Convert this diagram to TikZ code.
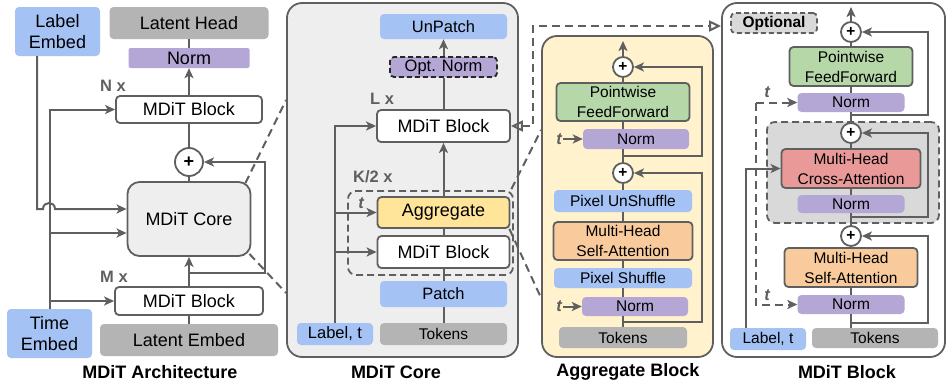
\documentclass[tikz,border=0pt]{standalone}
\usepackage{fontspec}
\setmainfont{Liberation Sans}
\usetikzlibrary{arrows.meta}

\definecolor{lc}{HTML}{5F5F5F}
\definecolor{cblue}{HTML}{A4C2F4}
\definecolor{cgray}{HTML}{B4B4B4}
\definecolor{cpurp}{HTML}{B4A7D6}
\definecolor{cgreen}{HTML}{B6D7A8}
\definecolor{corange}{HTML}{F9CB9C}
\definecolor{cred}{HTML}{EA9999}
\definecolor{cyel}{HTML}{FFE599}
\definecolor{clyel}{HTML}{FFF2CC}
\definecolor{ccore}{HTML}{EEEEEE}
\definecolor{cdg}{HTML}{D9D9D9}

\newcommand{\fbig}{\fontsize{18}{21}\selectfont}
\newcommand{\fmid}{\fontsize{16.5}{20}\selectfont}
\newcommand{\fsml}{\fontsize{15.5}{20}\selectfont}

\tikzset{
	wh/.style 2 args={minimum width=#1pt, minimum height=#2pt},
	bx/.style={rounded corners=4pt, inner sep=0pt, align=center, font=\fsml},
	bord/.style={bx, draw=lc, line width=1.8pt},
	grp/.style={draw=lc, line width=1.8pt, dash pattern=on 7pt off 4pt, rounded corners=8pt, inner sep=0pt},
	plus/.style={circle, draw=lc, fill=white, line width=1.8pt, inner sep=0pt, font=\bfseries\fsml},
	ln/.style={draw=lc, line width=2pt},
	dl/.style={draw=lc, line width=2pt, dash pattern=on 8pt off 5pt},
	rep/.style={anchor=west, inner sep=0pt, text=lc, font=\bfseries\fmid},
	tl/.style={inner sep=1.5pt, text=lc, font=\bfseries\itshape\fmid},
	captxt/.style={inner sep=0pt, font=\bfseries\fbig},
}

\begin{document}
\begin{tikzpicture}[x=1pt, y=-1pt, >={Stealth[length=10pt, width=9pt, inset=2.5pt]}]
	\useasboundingbox (0,0) rectangle (948,383);

	% MDiT Architecture
	\node[bx, fill=cblue, wh={85}{49}, font=\fbig] (lemb) at (57.5,31.5) {Label\\Embed};
	\node[bx, fill=cgray, wh={159}{32}, font=\fbig] (lhead) at (189,23) {Latent Head};
	\node[bx, fill=cpurp, wh={121}{20}, font=\fbig, rounded corners=2pt] (norm1) at (189,58) {Norm};
	\node[bord, fill=white, wh={146}{27}, font=\fbig] (blkN) at (189,109.5) {MDiT Block};
	\node[plus, minimum size=28pt, font=\bfseries\fbig] (plus1) at (189,162) {+};
	\node[bord, fill=ccore, wh={123}{74}, rounded corners=12pt, font=\fbig] (core) at (189,219) {MDiT Core};
	\node[bord, fill=white, wh={148}{28}, font=\fbig] (blkM) at (189,301) {MDiT Block};
	\node[bx, fill=cgray, wh={178}{32}, font=\fbig] (lemb2) at (189,340) {Latent Embed};
	\node[bx, fill=cblue, wh={85}{49}, font=\fbig] (temb) at (49.5,333.5) {Time\\Embed};
	\node[rep] (repN) at (100,86) {N x};
	\node[rep] (repM) at (100,277) {M x};

	\draw[ln] (lhead) -- (norm1);
	\draw[ln,->] (blkN) -- (norm1);
	\draw[ln] (plus1) -- (blkN);
	\draw[ln] (core) -- (plus1);
	\draw[ln,->] (blkM) -- (core);
	\draw[ln] (lemb2) -- (blkM);
	\coordinate (s1) at (189,273);
	\draw[ln,->] (s1) -- (265,273) |- (plus1.east);
	\draw[ln,->] (temb.north) |- (blkN.west);
	\draw[ln,->] (temb.north |- 0,233) -- (core.west |- 0,233);
	\draw[ln,->] (temb.north |- blkM.west) -- (blkM.west);
	\draw[ln,->] (lemb.south -| 37,0) -- (37,209) -- (43,209) .. controls (43,201) and (55,201) .. (55,209) -- (core.west |- 0,209);

	% MDiT Core
	\node[bord, fill=ccore, wh={231}{354}, rounded corners=15pt] (p2) at (402.5,180) {};
	\node[grp, wh={165}{84}] (g2) at (430.5,233) {};
	\node[bx, fill=cblue, wh={127}{25}, font=\fmid] (unp) at (443.5,26.5) {UnPatch};
	\node[bx, fill=cpurp, wh={107}{20}, font=\fmid, draw=black!85, line width=1.8pt, dash pattern=on 5pt off 3pt] (optn) at (443.5,67) {Opt. Norm};
	\node[bord, fill=white, wh={133}{32}, font=\fbig] (blkL) at (443.5,126) {MDiT Block};
	\node[bord, fill=cyel, wh={132}{31}, font=\fbig] (agg) at (443.5,212.5) {Aggregate};
	\node[bord, fill=white, wh={132}{32}, font=\fbig] (blkK) at (443.5,252) {MDiT Block};
	\node[bx, fill=cblue, wh={127}{26}, font=\fmid] (patch) at (443.5,294) {Patch};
	\node[bx, fill=cgray, wh={127}{22}] (tok2) at (443.5,334) {Tokens};
	\node[bx, fill=cblue, wh={76}{22}, font=\fmid] (labt2) at (335,334) {Label, t};
	\node[rep] (repL) at (370,99) {L x};
	\node[rep] (repK) at (353,177) {K/2 x};
	\node[tl] (t2) at (361,203) {t};

	\draw[ln] (tok2) -- (patch);
	\draw[ln] (patch) -- (blkK);
	\draw[ln] (blkK) -- (agg);
	\draw[ln,->] (agg) -- (blkL);
	\draw[ln] (blkL) -- (optn);
	\draw[ln,->] (optn) -- (unp);
	\draw[ln,->] (labt2.north) |- (blkL.west);
	\draw[ln,->] (labt2.north |- agg.west) -- (agg.west);
	\draw[ln,->] (labt2.north |- blkK.west) -- (blkK.west);

	% Aggregate Block
	\node[bord, fill=clyel, wh={171}{321}, rounded corners=15pt] (p3) at (627.5,196.5) {};
	\node[plus, minimum size=20pt] (plus3a) at (623,67) {+};
	\node[bord, fill=cgreen, wh={133}{38}] (ffn3) at (623,102) {Pointwise\\FeedForward};
	\node[bx, fill=cpurp, wh={106}{20}] (norm3a) at (636,139) {Norm};
	\node[plus, minimum size=20pt] (plus3b) at (623,173) {+};
	\node[bx, fill=cblue, wh={138}{22}] (unsh) at (623,201) {Pixel UnShuffle};
	\node[bord, fill=corange, wh={139}{38}] (mhsa3) at (623,241) {Multi-Head\\Self-Attention};
	\node[bx, fill=cblue, wh={138}{20}] (sh) at (623,278) {Pixel Shuffle};
	\node[bx, fill=cpurp, wh={106}{19}] (norm3b) at (635,306.5) {Norm};
	\node[bx, fill=cgray, wh={128}{21}] (tok3) at (623,337.5) {Tokens};
	\node[tl] (t3a) at (559,139) {t};
	\node[tl] (t3b) at (559,306.5) {t};
	\coordinate (o3) at (623,41);

	\foreach \a/\b in {tok3/norm3b, norm3b/sh, sh/mhsa3, mhsa3/unsh, unsh/plus3b, plus3b/norm3a, norm3a/ffn3, ffn3/plus3a}
		\draw[ln] (\a.north -| plus3a) -- (\b.south -| plus3a);
	\draw[ln,->] (plus3a) -- (o3);
	\draw[ln,->] (t3a) -- (norm3a);
	\draw[ln,->] (t3b) -- (norm3b);
	\coordinate (s3a) at (623,156);
	\coordinate (s3b) at (623,322);
	\draw[ln,->] (s3a) -- (702,156) |- (plus3a.east);
	\draw[ln,->] (s3b) -- (702,322) |- (plus3b.east);

	% MDiT Block
	\node[bord, fill=white, wh={223}{354}, rounded corners=15pt] (p4) at (833.5,180) {};
	\node[bx, fill=cdg, wh={86}{20}, draw=lc, line width=1.8pt, dash pattern=on 5pt off 3pt, font=\bfseries\fsml] (opt) at (774,23) {Optional};
	\node[grp, fill=cdg, wh={172}{101}] (g4) at (853,172.5) {};
	\node[plus, minimum size=20pt] (plus4a) at (851,32) {+};
	\node[bord, fill=cgreen, wh={123}{39}] (ffn4) at (851,66.5) {Pointwise\\FeedForward};
	\node[bx, fill=cpurp, wh={107}{19}] (norm4a) at (851,102.5) {Norm};
	\node[plus, minimum size=20pt] (plus4b) at (851,133) {+};
	\node[bord, fill=cred, wh={139}{39}] (xattn) at (851,168.5) {Multi-Head\\Cross-Attention};
	\node[bx, fill=cpurp, wh={107}{18}] (norm4b) at (851,204) {Norm};
	\node[plus, minimum size=20pt] (plus4c) at (851,236) {+};
	\node[bord, fill=corange, wh={133}{39}] (mhsa4) at (851,267.5) {Multi-Head\\Self-Attention};
	\node[bx, fill=cpurp, wh={107}{19}] (norm4c) at (851,304.5) {Norm};
	\node[bx, fill=cgray, wh={126}{20}] (tok4) at (875,338) {Tokens};
	\node[bx, fill=cblue, wh={76}{22}] (labt4) at (768,339) {Label, t};
	\node[tl] (t4a) at (767,92) {t};
	\node[tl] (t4b) at (767,295) {t};
	\coordinate (o4) at (851,7);

	\foreach \a/\b in {tok4/norm4c, norm4c/mhsa4, mhsa4/plus4c, plus4c/norm4b, norm4b/xattn, xattn/plus4b, plus4b/norm4a, norm4a/ffn4, ffn4/plus4a}
		\draw[ln] (\a.north -| plus4a) -- (\b.south -| plus4a);
	\draw[ln,->] (plus4a) -- (o4);
	\coordinate (s4a) at (851,115);
	\coordinate (s4b) at (851,217);
	\coordinate (s4c) at (851,323);
	\draw[ln,->] (s4a) -- (928,115) |- (plus4a.east);
	\draw[ln,->] (s4b) -- (928,217) |- (plus4b.east);
	\draw[ln,->] (s4c) -- (928,323) |- (plus4c.east);
	\coordinate (tj) at (756,102.5);
	\draw[dl,->] (tj) -- (norm4a.west);
	\draw[dl,->] (tj) |- (norm4c.west);
	\draw[ln,->] (labt4.north -| 746,0) |- (xattn.west);

	% zoom lines between panels
	\draw[dl] ([shift={(-6,2)}]core.north east) -- (p2.west |- 0,100);
	\draw[dl] ([shift={(-2,-3)}]core.south east) -- (p2.west |- 0,293);
	\draw[dl] ([shift={(1,-7)}]agg.north east) -- (p3.west |- 0,130);
	\draw[dl] ([shift={(-1,0)}]agg.south east) -- (p3.west |- 0,298);
	\draw[dl, {Triangle[open, length=12pt, width=11pt]}-{Triangle[open, length=12pt, width=11pt]}] (blkL.east) -- (533,126) -- (533,26) -- (p4.west |- 0,26);

	% captions
	\node[captxt] (c1) at (160,372) {MDiT Architecture};
	\node[captxt] (c2) at (396,372) {MDiT Core};
	\node[captxt] (c3) at (628,372) {Aggregate Block};
	\node[captxt] (c4) at (847,372) {MDiT Block};
\end{tikzpicture}
\end{document}
